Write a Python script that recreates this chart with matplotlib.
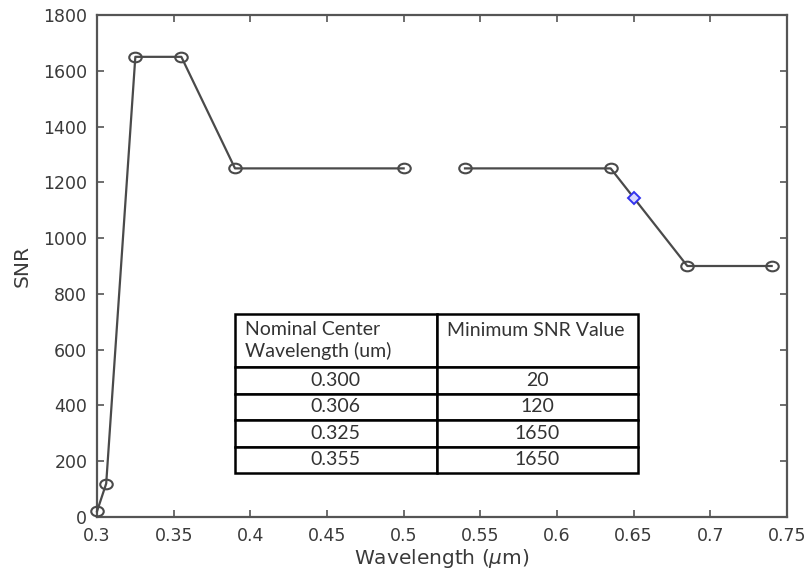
import matplotlib
matplotlib.use("Agg")
import matplotlib.pyplot as plt
import numpy as np
from matplotlib.path import Path
from matplotlib.transforms import Affine2D

# Data
seg1_wl = [0.300, 0.306, 0.325, 0.355, 0.390, 0.500]
seg1_snr = [20, 120, 1650, 1650, 1250, 1250]
seg2_wl = [0.540, 0.635, 0.685, 0.740]
seg2_snr = [1250, 1250, 900, 900]
highlight_wl = [0.650]
highlight_snr = [1145]

xticks = [0.3, 0.35, 0.4, 0.45, 0.5, 0.55, 0.6, 0.65, 0.7, 0.75]
xticklabels = ["0.3", "0.35", "0.4", "0.45", "0.5", "0.55", "0.6", "0.65", "0.7", "0.75"]
yticks = [0, 200, 400, 600, 800, 1000, 1200, 1400, 1600, 1800]

table_header = ["Nominal Center\nWavelength (um)", "Minimum SNR Value\n"]
table_wl = ["0.300", "0.306", "0.325", "0.355"]
table_snr = ["20", "120", "1650", "1650"]

plt.rcParams["font.family"] = ["DejaVu Sans"]

fig = plt.figure(figsize=(8.07, 5.8), dpi=100)
ax = fig.add_axes([97/807, 1 - 517/580, (787-97)/807, (517-15)/580])

ell = Path.unit_circle().transformed(Affine2D().scale(1.3, 1.0))
lc = "#4a4a4a"
for xs, ys in [(seg1_wl, seg1_snr), (seg2_wl, seg2_snr)]:
    ax.plot(xs, ys, color=lc, lw=1.6, marker=ell, markersize=9,
            mfc="none", mec=lc, mew=1.5, clip_on=False, zorder=3)
ax.plot(highlight_wl, highlight_snr, linestyle="none", marker="D", markersize=6.5,
        mfc="#d8d8ff", mec="#3333ee", mew=1.4, zorder=4)

ax.set_xlim(0.3, 0.75)
ax.set_ylim(0, 1800)
ax.set_xticks(xticks)
ax.set_xticklabels(xticklabels)
ax.set_yticks(yticks)
ax.tick_params(direction="in", top=True, right=True, length=5, width=1.2,
               colors="#555555", labelcolor="#3a3a3a", labelsize=12.5, pad=7)
for s in ax.spines.values():
    s.set_color("#555555")
    s.set_linewidth(1.6)
ax.set_xlabel(r"Wavelength ($\mu$m)", fontsize=14.5, color="#3a3a3a", labelpad=2)
ax.set_ylabel("SNR", fontsize=14.5, color="#3a3a3a", labelpad=8)

# Table
cell_text = [table_header] + [[w, s] for w, s in zip(table_wl, table_snr)]
tbl = ax.table(cellText=cell_text, bbox=[(235-97)/690, (517-473)/502, (638-235)/690, (473-314)/502],
               cellLoc="center", zorder=5)
tbl.auto_set_font_size(False)
for (r, c), cell in tbl.get_celld().items():
    cell.set_edgecolor("black")
    cell.set_linewidth(1.8)
    cell.set_facecolor("white")
    cell.get_text().set_fontsize(14)
    cell.get_text().set_family("Lato")
    cell.get_text().set_color("#333333")
    if r == 0:
        cell.set_height(2.0)
        cell.get_text().set_ha("left")
        cell.PAD = 0.05
        cell._loc = "left"
    else:
        cell.set_height(1.0)
    cell.set_width(1.0)

fig.savefig("out.png", dpi=100)
